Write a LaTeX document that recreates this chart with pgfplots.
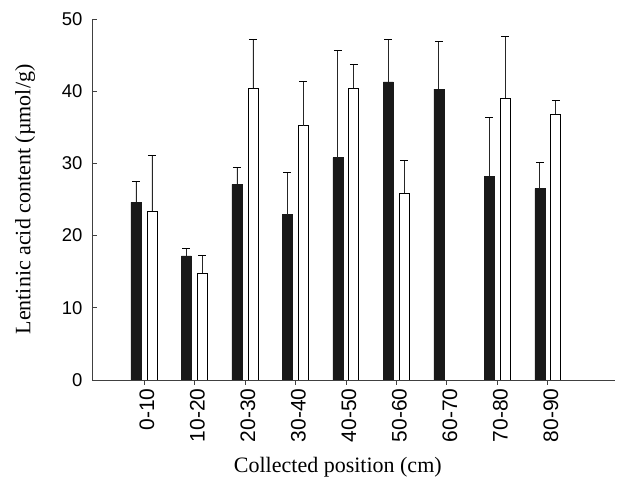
\documentclass[border=0pt]{standalone}
\usepackage{fontspec}
\setmainfont{Liberation Serif}
\newfontfamily\sansf{Liberation Sans}
\usepackage{pgfplots}
\pgfplotsset{compat=1.18}
\begin{document}
\begin{tikzpicture}[x=1pt,y=1pt]
\path[use as bounding box] (0,0) rectangle (617,478);
\begin{axis}[
  at={(92pt,98pt)}, anchor=south west,
  scale only axis, width=523pt, height=361pt,
  axis lines*=left,
  axis line style={black!75, line width=0.9pt},
  xmin=-1.03, xmax=9.33,
  ymin=0, ymax=50,
  ytick={0,10,20,30,40,50},
  xtick={0,...,8},
  xticklabels={0-10,10-20,20-30,30-40,40-50,50-60,60-70,70-80,80-90},
  tick align=inside,
  major tick length=5pt,
  tick style={black!75, line width=0.8pt},
  /pgf/number format/assume math mode=true,
  yticklabel style={font=\sansf\fontsize{18.5}{18.5}\selectfont, xshift=-6pt},
  xticklabel style={font=\sansf\fontsize{21}{21}\selectfont, rotate=90, anchor=east, yshift=-3pt},
  xlabel={Collected position (cm)},
  ylabel={Lentinic acid content (\textmu mol/g)},
  label style={font=\fontsize{22}{22}\selectfont},
  xlabel style={at={(axis description cs:0.47,-0.241)}, anchor=center},
  ylabel style={at={(axis description cs:-0.128,0.5)}, anchor=center, rotate=0},
  ybar, bar width=10pt,
  error bars/y dir=plus, error bars/y explicit,
  error bars/error mark=-,
  error bars/error mark options={rotate=90, mark size=4pt, line width=0.9pt, black},
  error bars/error bar style={line width=0.9pt, black!85},
]
\addplot[fill=black!90, draw=black!90, bar shift=-8pt] coordinates {
 (0,24.6) +- (0,2.9)
 (1,17.2) +- (0,1.0)
 (2,27.1) +- (0,2.3)
 (3,22.9) +- (0,5.8)
 (4,30.8) +- (0,14.8)
 (5,41.3) +- (0,5.8)
 (6,40.3) +- (0,6.6)
 (7,28.2) +- (0,8.1)
 (8,26.5) +- (0,3.6)
};
\addplot[fill=white, draw=black, line width=0.9pt, bar shift=8pt] coordinates {
 (0,23.4) +- (0,7.7)
 (1,14.8) +- (0,2.5)
 (2,40.4) +- (0,6.7)
 (3,35.2) +- (0,6.1)
 (4,40.4) +- (0,3.3)
 (5,25.9) +- (0,4.5)
 (7,39.0) +- (0,8.6)
 (8,36.8) +- (0,1.9)
};
\end{axis}
\end{tikzpicture}
\end{document}
